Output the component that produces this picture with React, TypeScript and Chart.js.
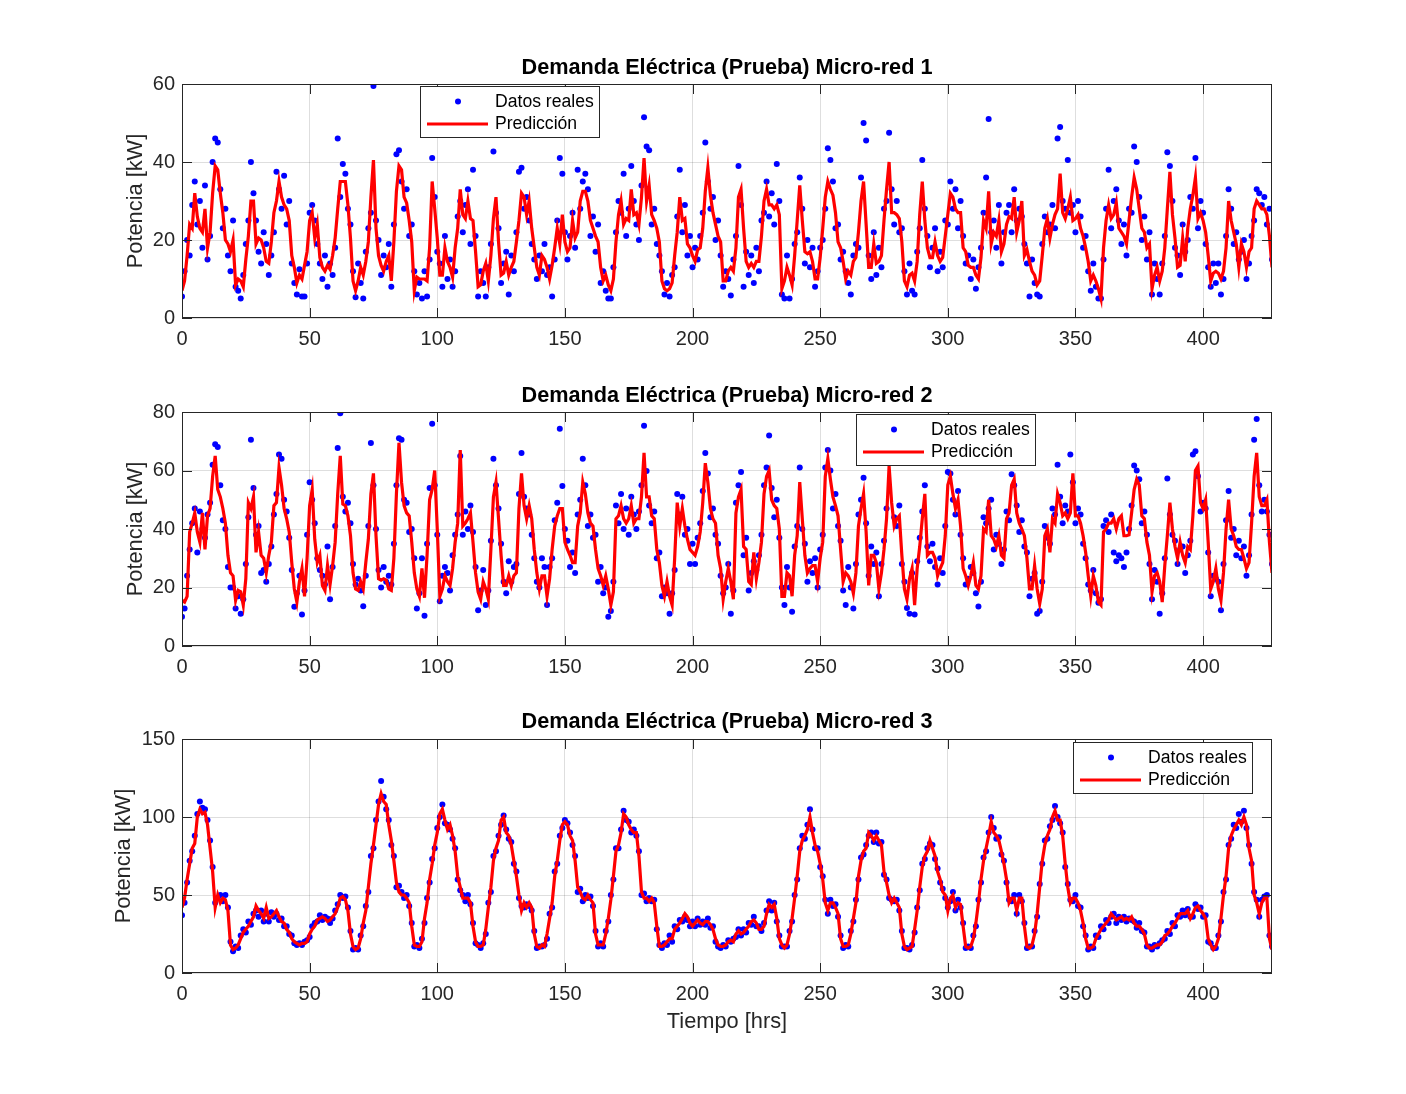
import { useEffect, useRef } from "react"
import { Chart, registerables } from "chart.js"

Chart.register(...registerables)

const FONT = "'Liberation Sans', Arial, Helvetica, sans-serif"
const INK = "#262626"

// hourly values, hour 0..427
const real1 = [
  5.5, 12, 20, 16, 29, 35, 24, 30, 18, 34, 15, 21,
  40, 46, 45, 33, 23, 28, 16, 12, 25, 8, 7, 5,
  11, 19, 25, 40, 32, 25, 17, 14, 22, 19, 11, 16,
  22, 37.5, 33, 28, 36.5, 24, 30, 14, 9, 6, 12.5, 5.5,
  5.5, 14, 27, 29, 25, 19, 14, 10, 16, 8, 14, 11,
  18, 46, 31, 39.5, 37, 28, 24, 12, 5.3, 14, 9, 5,
  17, 23, 27, 59.5, 25, 20, 11, 16, 13, 19, 8, 24,
  42, 43, 35, 28, 33, 21, 24, 12, 6, 9, 5, 12,
  5.5, 15, 41, 31, 17, 14, 8, 21, 10, 15, 8, 12,
  26, 30, 22, 29, 33, 19, 38, 21, 5.5, 12, 9, 5.5,
  13, 19, 42.7, 27, 23, 9, 14, 17, 6, 16, 12, 22,
  37.5, 38.5, 28, 31, 25, 19, 15, 10, 16, 12, 19, 11,
  13, 5.5, 15, 25, 41, 37, 22, 15, 21, 27, 18, 38,
  28, 35, 37, 33, 21, 26, 17, 24, 9, 12, 7, 5,
  5, 13, 22, 30, 27, 37, 21, 28, 39, 30, 24, 20,
  34, 51.5, 44, 43, 24, 28, 19, 16, 12, 6, 9, 5.5,
  11, 13, 26, 38, 22, 29, 16, 21, 13, 18, 15, 21,
  27, 45, 35, 28, 31, 20, 25, 16, 8, 12, 10, 5.8,
  15, 21, 39, 29, 8, 17, 11, 16, 9, 18, 12, 25,
  27, 35, 26, 32, 24, 39.5, 30, 6, 5, 16, 5, 10,
  19, 22, 36, 28, 14, 20, 13, 18, 8, 12, 18, 20,
  28, 43.5, 40.5, 35, 23, 24, 15, 17, 12, 9, 6, 16,
  19, 18, 36, 50, 45.5, 16, 10, 22, 11, 18, 13, 28,
  30, 47.5, 33, 24, 30, 22, 23, 12, 6, 14, 7, 6,
  17, 23, 40.5, 28, 21, 13, 18, 23, 12, 17, 13, 25,
  24, 35, 28, 33, 23, 30, 21, 14, 16, 10, 15, 7.5,
  13, 18, 27, 36, 51, 22, 25, 18, 29, 14, 22, 27,
  29, 22, 33, 25, 28, 26, 19, 14, 5.5, 15, 9, 6,
  5.5, 19, 26, 22, 24, 29, 23, 46, 49, 30, 28, 40.5,
  27, 29, 22, 30, 26, 18, 21, 12, 7, 14, 8, 5,
  5, 15, 28, 38, 23, 30, 33, 25, 19, 24, 16, 28,
  27, 44, 40, 31, 20, 26, 15, 22, 6, 14, 10, 6,
  14, 21, 42.5, 39, 30, 18, 16, 11, 24, 17, 20, 31,
  28, 41, 23, 30, 27, 19, 13, 8, 14, 9, 14, 6,
  10, 21, 33, 28, 19, 22, 15, 17, 20, 10, 14, 21,
  25, 33, 32, 29, 31, 24, 28, 15,
]

const pred1 = [
  7, 9.5, 16, 24, 23, 32, 26, 23, 22, 28, 18, 22,
  32, 39, 38, 32, 27, 20, 19, 17, 20, 8.5, 10, 9.5,
  8, 15, 21, 30, 30, 19, 20.5, 20, 18, 14.5, 14, 19.5,
  27, 30, 35, 31, 29, 28, 25, 16, 13, 9, 11, 10,
  13.5, 17, 25, 27, 20.5, 24, 15.5, 13, 12, 13.5, 12.5, 16,
  20.5, 28, 35, 35, 35, 29, 20.5, 9.5, 7, 9.5, 13, 11,
  14.5, 19.5, 31, 40.5, 23, 16, 13.5, 12, 14.5, 16, 9.5, 19.5,
  32.5, 39, 38, 31, 29.5, 25, 19.5, 7, 10.5, 10, 10, 10,
  9.5, 18, 35, 28, 20.5, 11, 11, 18, 14.5, 13, 10.5, 18,
  23, 33, 26.5, 25.5, 30, 25.5, 25, 17, 8, 8.5, 12, 14,
  9.5, 16, 25.5, 31, 19.5, 11, 11.5, 14.5, 11, 13, 14.5, 19.5,
  25, 32, 31, 26.5, 30, 23, 18, 13, 11, 16, 15, 13,
  10, 13.5, 18, 23, 19, 26.5, 19.5, 17, 18, 25, 20.5, 22,
  30, 32.5, 32.5, 30, 25, 23, 21, 19.5, 13, 9.5, 11, 8.5,
  7, 10, 19.5, 26.5, 30, 24, 25.5, 25, 33, 26.5, 27, 24,
  31, 41, 30, 34, 26.5, 25, 23, 19.5, 9.5, 7.5, 7, 7.5,
  9, 16, 22, 31, 25, 25.5, 19, 18, 16, 14.5, 17.5, 18,
  23, 32.5, 38.5, 31.5, 27, 24, 21, 19.5, 9.5, 9.5, 12, 13,
  12, 18, 31, 33, 23, 14.5, 13, 14, 13, 14.5, 14.5, 21,
  30, 33, 29, 29, 28, 29, 26.5, 7.5, 9.5, 13, 11, 8.5,
  16, 25, 34, 25, 17, 16.5, 17, 14.5, 10, 10, 15.5, 23,
  31, 35, 33, 31.5, 27, 19.5, 18, 14.5, 10, 12, 11, 14.5,
  15.5, 22, 30, 35, 24, 13, 13, 19, 14, 14.5, 16, 25,
  33, 40, 27, 27, 26.5, 25.5, 19.5, 9.5, 8, 11, 11.5, 9.5,
  14.5, 26.5, 35, 25, 18, 15.5, 15.5, 19.5, 16, 14.5, 15.5, 21,
  26.5, 32, 31, 28, 27, 27, 18, 17, 13.5, 13, 13, 11,
  10, 15.5, 25, 23, 32.5, 19, 22, 21, 25, 17, 19, 24,
  26, 25.5, 31, 22, 25, 30, 16, 17.5, 14.5, 12, 11, 8.5,
  9.5, 16, 23, 25.5, 20.5, 24, 26.5, 28, 37, 27, 25.5, 28,
  31, 25, 25.5, 26.5, 23, 21, 18, 14.5, 9.5, 11, 9.5, 7.5,
  5, 18, 25, 29, 25.5, 26.5, 29.5, 23, 22, 21, 19, 25,
  31, 36, 33, 28, 23, 22, 18, 19, 7.5, 11, 13, 9.5,
  12, 18, 28, 37.5, 26.5, 20.5, 13, 13.5, 20.5, 14.5, 23, 28,
  31.5, 36, 25.5, 27, 25, 22, 16, 9.5, 11.5, 12, 11.5, 10,
  12, 18, 30, 25, 22, 19, 13, 19, 17, 13, 17, 18,
  28, 30, 29, 28, 28, 26.5, 21, 13,
]

const real2 = [
  10, 12.8, 24, 33, 42, 47, 32, 46, 40, 37, 45, 49,
  62, 69, 68, 55, 43, 40, 27, 20, 20, 12.8, 17, 11,
  16, 28, 44, 70.5, 54, 38, 41, 25, 26, 22, 28, 34,
  45, 52, 65.5, 64, 50, 46, 37, 26, 13.4, 18, 24, 10.8,
  19, 38, 56, 50, 42, 30, 26, 24, 21, 34, 16, 27,
  41, 67.7, 79.6, 51, 46, 49, 42, 28, 21, 23, 19, 13.6,
  24, 41, 69.4, 55, 40, 26, 20, 27, 22, 24, 21, 35,
  55, 71, 70.5, 50, 49, 39, 40, 30, 12.8, 18, 30, 10.3,
  35, 54, 76, 55, 38, 15.3, 24, 27, 25, 19, 31, 38,
  45, 65, 38, 46, 40, 48, 39, 27, 12.2, 19, 26, 14,
  19, 36, 64, 55, 47, 35, 22, 18, 29, 22, 27, 28,
  52, 66, 51, 47, 45, 38, 30, 22, 20, 30, 27, 14,
  27, 30, 43, 49, 74.3, 54.7, 40, 36, 27, 32, 25, 45,
  50, 64, 55, 41, 45, 37, 38, 22, 27, 18, 20, 10,
  12, 22, 48, 42, 52, 40, 47, 38, 51, 45, 40, 46,
  55, 75.3, 59.8, 48, 42, 46, 30, 32, 17, 20, 18, 11,
  18, 26, 52, 45, 51, 38, 40, 28, 35, 28, 37, 42,
  53, 66, 59, 44, 47, 38, 35, 24, 18, 20, 28, 11,
  19, 49, 55, 59.5, 31, 37, 19, 25, 29, 26, 31, 38,
  55, 61, 72, 54, 44, 50, 37, 20, 14, 27, 20, 11.7,
  34, 41, 61, 40, 35, 22, 29, 25, 30, 20, 33, 38,
  61, 67, 60, 47, 52, 41, 36, 19, 14, 27, 20, 12.8,
  28, 45, 50, 57.5, 42, 24, 34, 28, 32, 17, 28, 36,
  47, 64, 73.6, 44, 41, 48, 28, 22, 13, 11, 25, 10.8,
  29, 37, 46, 55, 34, 29, 35, 27, 21, 30, 25, 41,
  59.5, 59, 50, 45, 53, 38, 30, 21, 23, 27, 25, 18,
  13.5, 22, 44, 42, 47, 50, 33, 38, 35, 28, 33, 46,
  43, 58.7, 55, 48, 39, 43, 34, 32, 17, 23, 25, 11,
  12, 22, 41, 37, 35, 47, 45, 62, 51, 42, 48, 46,
  65.5, 56, 42, 47, 45, 35, 30, 21, 19, 26, 18, 14.8,
  16, 41, 43, 39, 45, 32, 29, 31, 30, 27, 32, 40,
  48, 61.7, 60, 57, 42, 46, 38, 28, 16, 26, 22, 11,
  18, 30, 57.3, 45, 38, 36, 28, 33, 34, 25, 31, 36,
  65.5, 66.6, 58, 46, 49, 47, 32, 17, 24, 23, 22, 12.2,
  28, 43, 53, 37, 40, 31, 36, 30, 34, 24, 31, 45,
  70.5, 77.6, 55, 46, 50, 46, 38, 28,
]

const pred2 = [
  15.6, 15, 17, 39, 42, 45.5, 39, 35.5, 45.5, 33, 44.5, 47,
  58, 65, 53.5, 51, 47, 42, 31, 25, 24, 15.6, 19, 18.5,
  14, 23, 49, 47, 51, 32, 39, 31, 30, 25, 31, 35.5,
  48, 49, 61, 55, 47, 43.5, 39, 28.5, 19.5, 15, 22, 26.5,
  17, 30, 48, 53.5, 36.5, 28.5, 31, 20.7, 19, 27.5, 21, 27.5,
  35.5, 52, 65, 48.5, 48, 44.5, 37.7, 25, 19.5, 19, 22, 19.5,
  28.5, 36.5, 52, 59, 37.7, 23, 22.5, 23, 22.5, 19.5, 19, 30,
  52, 69.5, 56, 48, 45.5, 44.5, 35.5, 25, 19.5, 17, 26.5, 16.5,
  31, 50, 53.5, 60, 40, 17, 19.5, 24, 22, 20.7, 26.5, 35.5,
  42, 67, 41, 42, 43.5, 45.5, 35.5, 25, 18.5, 16, 22, 19.5,
  16, 33, 51, 56, 43.5, 31, 20.7, 20.7, 24, 20.7, 24, 25,
  47, 59, 48, 43.5, 48, 43.5, 33, 25, 19.5, 24, 24, 17,
  23, 33, 41, 44.5, 47, 47, 35.5, 33, 31, 28.5, 28.5, 41,
  45.5, 56, 52, 45.5, 42, 41, 33, 26.5, 24, 20.7, 24, 19.5,
  14, 18.5, 43.5, 44.5, 48, 43.5, 42, 43.5, 48, 42, 43.5, 43.5,
  51, 66, 51, 51, 44.5, 43.5, 33, 28.5, 20.7, 17, 22, 17,
  14, 30, 49, 41, 47, 41, 36.5, 33, 32, 31, 34, 39,
  49, 62.5, 56, 47, 43.5, 42, 31, 26.5, 16, 22, 26.5, 22,
  16, 45.5, 51, 53.5, 34, 33, 22, 21, 32, 23, 28.5, 35.5,
  52, 58, 60, 50, 48, 47, 40, 17, 17, 25, 24, 17,
  31, 37.7, 56, 43.5, 31, 25, 26.5, 27.5, 27.5, 22, 30, 35.5,
  58, 64, 57, 51, 48, 44.5, 33, 22, 25, 24, 22, 18,
  25, 41, 47, 52, 39, 20.7, 31, 31, 28.5, 19.5, 25, 33,
  43.5, 61.5, 49, 41, 43.5, 44.5, 31, 19.5, 16, 23, 26.5, 14,
  26.5, 34, 43.5, 52, 31, 32, 32, 30, 24, 26.5, 28.5, 37.7,
  55, 58, 52, 47, 50, 41, 26.5, 24, 20.7, 24, 28.5, 20.7,
  19.5, 24, 40, 39, 50, 37.7, 36.5, 34, 37.7, 31, 30, 43.5,
  45.5, 55, 57, 45.5, 42, 40, 37.7, 30, 19.5, 19.5, 27.5, 19.5,
  14.5, 19.5, 37.7, 40, 32, 43.5, 42, 52, 49, 44.5, 45.5, 43.5,
  45.5, 59, 44.5, 44.5, 42, 37.7, 32, 24, 17, 24, 20.7, 15,
  14, 39, 40, 42, 42, 43.5, 40, 43.5, 44.5, 37.7, 37.7, 38,
  45.5, 53.5, 57, 55, 44.5, 43.5, 35.5, 31, 18.5, 24, 25, 22,
  15, 27.5, 37.7, 49, 40, 34, 30, 35.5, 31, 28.5, 34, 33,
  44.5, 60, 61.5, 49, 47, 50, 35.5, 19.5, 22, 26.5, 19.5, 15.6,
  25, 40, 50, 40, 37.7, 34, 33, 33, 30, 26.5, 28.5, 42,
  58, 66, 51, 48, 48, 50, 35.5, 25,
]

const real3 = [
  37, 45, 58, 72, 78, 88, 102, 110, 106, 105, 98, 85,
  68, 45, 48, 50, 46, 50, 42, 20, 14, 17, 16, 24,
  28, 26, 33, 31, 38, 40, 36, 40, 33, 38, 33, 39,
  36, 38, 34, 35, 30, 30, 25, 24, 19, 18, 19, 18,
  20, 21, 23, 30, 32, 33, 37, 34, 36, 35, 32, 35,
  40, 44, 50, 48, 49, 42, 27, 15, 16, 15, 24, 30,
  43, 52, 75, 80, 98, 110, 123, 113, 105, 98, 82, 75,
  55, 56, 52, 48, 50, 43, 32, 17, 18, 16, 22, 32,
  48, 58, 73, 80, 93, 100, 108, 96, 95, 92, 86, 80,
  60, 53, 50, 46, 50, 44, 32, 19, 18, 16, 19, 25,
  45, 52, 75, 78, 88, 95, 101, 92, 86, 84, 70, 65,
  48, 43, 42, 44, 43, 40, 27, 16, 17, 17, 18, 22,
  38, 42, 65, 70, 88, 93, 98, 96, 90, 82, 75, 52,
  54, 46, 50, 48, 49, 43, 27, 17, 19, 17, 27, 33,
  50, 60, 80, 80, 92, 104, 98, 97, 90, 92, 88, 78,
  50, 51, 46, 48, 46, 47, 28, 18, 16, 19, 18, 24,
  20, 30, 28, 34, 33, 36, 34, 30, 33, 30, 35, 31,
  33, 31, 35, 29, 30, 20, 17, 16, 18, 17, 21, 20,
  22, 23, 28, 24, 28, 26, 32, 31, 36, 30, 30, 27,
  32, 40, 46, 40, 45, 33, 24, 17, 17, 17, 27, 33,
  50, 60, 80, 88, 86, 95, 105, 92, 80, 80, 68, 62,
  47, 38, 47, 43, 44, 36, 24, 16, 18, 17, 27, 33,
  47, 60, 74, 76, 82, 88, 90, 84, 90, 83, 84, 63,
  60, 48, 47, 46, 47, 40, 27, 16, 16, 15, 18, 26,
  42, 53, 70, 73, 80, 83, 82, 73, 67, 58, 54, 48,
  42, 46, 52, 40, 47, 42, 32, 16, 17, 16, 24, 30,
  47, 58, 74, 78, 90, 100, 93, 86, 87, 76, 72, 58,
  47, 46, 50, 38, 50, 46, 32, 16, 17, 17, 27, 36,
  57, 70, 85, 86, 94, 98, 107, 100, 96, 90, 68, 57,
  47, 46, 50, 43, 42, 30, 24, 15, 17, 16, 24, 23,
  30, 28, 34, 32, 36, 38, 32, 36, 34, 36, 33, 35,
  34, 33, 29, 32, 27, 26, 17, 17, 15, 18, 17, 19,
  21, 22, 27, 25, 32, 30, 37, 36, 40, 37, 41, 36,
  36, 44, 41, 42, 36, 37, 20, 19, 16, 16, 24, 33,
  52, 60, 82, 86, 95, 93, 102, 97, 104, 93, 82, 70,
  52, 47, 36, 47, 49, 50, 24, 17,
]

const pred3 = [
  42, 48, 60, 70, 80, 83, 100, 105, 102, 103, 95, 80,
  65, 42, 50, 45, 48, 47, 40, 18, 15, 16, 18, 22,
  26, 28, 30, 33, 36, 43, 40, 38, 35, 42, 35, 36,
  38, 40, 36, 33, 32, 28, 26, 22, 20, 19, 18, 19,
  19, 20, 25, 28, 30, 34, 35, 36, 35, 33, 34, 36,
  38, 42, 48, 49, 47, 40, 25, 17, 15, 16, 22, 32,
  40, 55, 70, 82, 95, 108, 115, 110, 108, 95, 85, 72,
  58, 52, 50, 50, 48, 45, 30, 18, 17, 17, 20, 35,
  45, 60, 70, 82, 90, 102, 105, 98, 92, 95, 88, 78,
  62, 55, 48, 48, 48, 45, 30, 20, 17, 17, 18, 28,
  42, 55, 72, 80, 85, 98, 100, 90, 88, 82, 72, 62,
  50, 40, 45, 42, 45, 42, 25, 17, 16, 18, 17, 25,
  35, 45, 62, 72, 85, 95, 97, 95, 88, 85, 72, 55,
  52, 48, 47, 50, 47, 45, 25, 18, 18, 18, 25, 35,
  47, 62, 78, 82, 90, 102, 100, 95, 92, 90, 90, 75,
  52, 48, 48, 46, 48, 45, 30, 17, 17, 18, 20, 22,
  22, 28, 30, 32, 35, 38, 36, 32, 30, 32, 34, 32,
  31, 33, 33, 31, 28, 22, 18, 17, 17, 18, 20, 21,
  20, 25, 27, 25, 26, 28, 30, 33, 34, 32, 28, 28,
  30, 38, 44, 42, 44, 35, 22, 18, 16, 18, 25, 35,
  48, 62, 78, 85, 88, 92, 100, 90, 82, 78, 70, 60,
  45, 40, 45, 45, 42, 38, 22, 17, 17, 18, 25, 35,
  45, 62, 72, 78, 80, 90, 88, 85, 88, 85, 82, 65,
  58, 50, 45, 48, 45, 42, 25, 17, 15, 16, 17, 28,
  40, 55, 68, 75, 78, 85, 80, 75, 65, 60, 52, 50,
  40, 48, 50, 42, 45, 44, 30, 17, 16, 17, 22, 32,
  45, 60, 72, 80, 88, 97, 90, 88, 85, 78, 70, 60,
  45, 48, 48, 40, 48, 48, 30, 17, 16, 18, 25, 38,
  55, 72, 82, 88, 92, 100, 104, 98, 98, 88, 70, 55,
  45, 48, 48, 45, 40, 32, 22, 16, 16, 17, 22, 25,
  28, 30, 32, 34, 38, 36, 34, 35, 36, 34, 35, 34,
  36, 32, 30, 30, 28, 25, 18, 16, 16, 17, 18, 18,
  20, 24, 25, 27, 30, 32, 35, 38, 38, 38, 40, 35,
  38, 42, 43, 40, 38, 35, 22, 18, 15, 17, 22, 35,
  50, 62, 80, 88, 92, 95, 98, 95, 100, 95, 80, 72,
  50, 45, 38, 45, 48, 48, 22, 15,
]

const xTicks = [0, 50, 100, 150, 200, 250, 300, 350, 400]

// titles, axis labels, frame with inward ticks and the boxed legend, MATLAB style
const matlabPlugin = {
  id: "matlab",
  afterDraw(chart: any, _args: any, opts: any) {
    const { ctx, chartArea: a, scales } = chart
    ctx.save()

    // frame + inward tick marks
    ctx.strokeStyle = INK
    ctx.lineWidth = 1
    ctx.strokeRect(a.left + 0.5, a.top + 0.5, a.right - a.left - 1, a.bottom - a.top - 1)
    ctx.beginPath()
    for (const t of scales.x.ticks) {
      const px = Math.round(scales.x.getPixelForValue(t.value)) + 0.5
      ctx.moveTo(px, a.bottom); ctx.lineTo(px, a.bottom - 10)
      ctx.moveTo(px, a.top); ctx.lineTo(px, a.top + 10)
    }
    for (const t of scales.y.ticks) {
      const py = Math.round(scales.y.getPixelForValue(t.value)) + 0.5
      ctx.moveTo(a.left, py); ctx.lineTo(a.left + 10, py)
      ctx.moveTo(a.right, py); ctx.lineTo(a.right - 10, py)
    }
    ctx.stroke()

    // title
    ctx.fillStyle = "#000"
    ctx.textAlign = "center"
    ctx.textBaseline = "middle"
    ctx.font = `bold 21.7px ${FONT}`
    ctx.fillText(opts.title, (a.left + a.right) / 2, a.top + opts.titleDy)

    // axis labels
    ctx.fillStyle = INK
    ctx.font = `21.8px ${FONT}`
    if (opts.xLabel) {
      ctx.fillText(opts.xLabel, (a.left + a.right) / 2, a.bottom + 49)
    }
    ctx.save()
    ctx.translate(opts.yLabelX, (a.top + a.bottom) / 2)
    ctx.rotate(-Math.PI / 2)
    ctx.fillText(opts.yLabel, 0, 0)
    ctx.restore()

    // legend box
    const lx = a.left + opts.legendX
    const ly = a.top + opts.legendY
    ctx.fillStyle = "#fff"
    ctx.fillRect(lx, ly, 179, 51)
    ctx.strokeStyle = INK
    ctx.strokeRect(lx + 0.5, ly + 0.5, 179, 51)
    const ds = chart.data.datasets
    ctx.fillStyle = "#0000ff"
    ctx.beginPath()
    ctx.arc(lx + 38, ly + 15.5, 3, 0, Math.PI * 2)
    ctx.fill()
    ctx.strokeStyle = "#ff0000"
    ctx.lineWidth = 3
    ctx.beginPath()
    ctx.moveTo(lx + 7, ly + 38); ctx.lineTo(lx + 68, ly + 38)
    ctx.stroke()
    ctx.fillStyle = "#000"
    ctx.textAlign = "left"
    ctx.font = `17.6px ${FONT}`
    ctx.fillText(ds[0].label, lx + 75, ly + 16)
    ctx.fillText(ds[1].label, lx + 75, ly + 38)

    ctx.restore()
  },
}

interface PanelProps {
  title: string
  real: number[]
  pred: number[]
  yMax: number
  yStep: number
  top: number
  legendX: number
  legendY: number
  yLabelX: number
  titleDy: number
  xLabel?: string
}

function Panel({ title, real, pred, yMax, yStep, top, legendX, legendY, yLabelX, titleDy, xLabel }: PanelProps) {
  const chartRef = useRef<HTMLCanvasElement>(null)

  useEffect(() => {
    if (!chartRef.current) return
    const ctx = chartRef.current.getContext("2d")
    if (!ctx) return

    const chart = new Chart(ctx, {
      type: "scatter",
      data: {
        datasets: [
          {
            type: "scatter",
            label: "Datos reales",
            data: real.map((y, i) => ({ x: i, y })),
            pointRadius: 3,
            pointBackgroundColor: "#0000ff",
            pointBorderWidth: 0,
            showLine: false,
            order: 2,
          },
          {
            type: "line",
            label: "Predicción",
            data: pred.map((y, i) => ({ x: i, y })),
            borderColor: "#ff0000",
            borderWidth: 3.2,
            pointRadius: 0,
            tension: 0,
            fill: false,
            order: 1,
          },
        ],
      } as any,
      options: {
        responsive: false,
        animation: false,
        events: [],
        layout: { padding: { top: 40, right: 134, left: 0, bottom: 0 } },
        plugins: {
          legend: { display: false },
          tooltip: { enabled: false },
          matlab: { title, yLabel: "Potencia [kW]", xLabel, yLabelX, legendX, legendY, titleDy },
        } as any,
        scales: {
          x: {
            type: "linear",
            min: 0,
            max: 427,
            afterBuildTicks: (s: any) => {
              s.ticks = xTicks.map((value) => ({ value }))
            },
            afterFit: (s: any) => {
              s.height = 80
            },
            ticks: {
              color: INK,
              font: { family: FONT, size: 20 },
              padding: 9,
              maxRotation: 0,
              autoSkip: false,
            },
            grid: { color: "rgba(0, 0, 0, 0.13)", drawTicks: false },
            border: { display: false },
          },
          y: {
            min: 0,
            max: yMax,
            afterFit: (s: any) => {
              s.width = 182
            },
            ticks: {
              stepSize: yStep,
              color: INK,
              font: { family: FONT, size: 20 },
              padding: 7,
            },
            grid: { color: "rgba(0, 0, 0, 0.13)", drawTicks: false },
            border: { display: false },
          },
        },
      },
      plugins: [matlabPlugin],
    })

    return () => {
      chart.destroy()
    }
  }, [])

  return (
    <canvas
      ref={chartRef}
      width={1406}
      height={354}
      style={{ position: "absolute", left: 0, top: top - 40, width: 1406, height: 354 }}
    />
  )
}

export default function App() {
  return (
    <div style={{ position: "fixed", left: 0, top: 0, width: 1406, height: 1094, background: "#fff" }}>
      <Panel title="Demanda Eléctrica (Prueba) Micro-red 1" real={real1} pred={pred1} yMax={60} yStep={20}
        top={84} legendX={238} legendY={2} yLabelX={136} titleDy={-16} />
      <Panel title="Demanda Eléctrica (Prueba) Micro-red 2" real={real2} pred={pred2} yMax={80} yStep={20}
        top={412} legendX={674} legendY={2} yLabelX={136} titleDy={-16} />
      <Panel title="Demanda Eléctrica (Prueba) Micro-red 3" real={real3} pred={pred3} yMax={150} yStep={50}
        top={739} legendX={891} legendY={3} yLabelX={124} titleDy={-17} xLabel="Tiempo [hrs]" />
    </div>
  )
}
